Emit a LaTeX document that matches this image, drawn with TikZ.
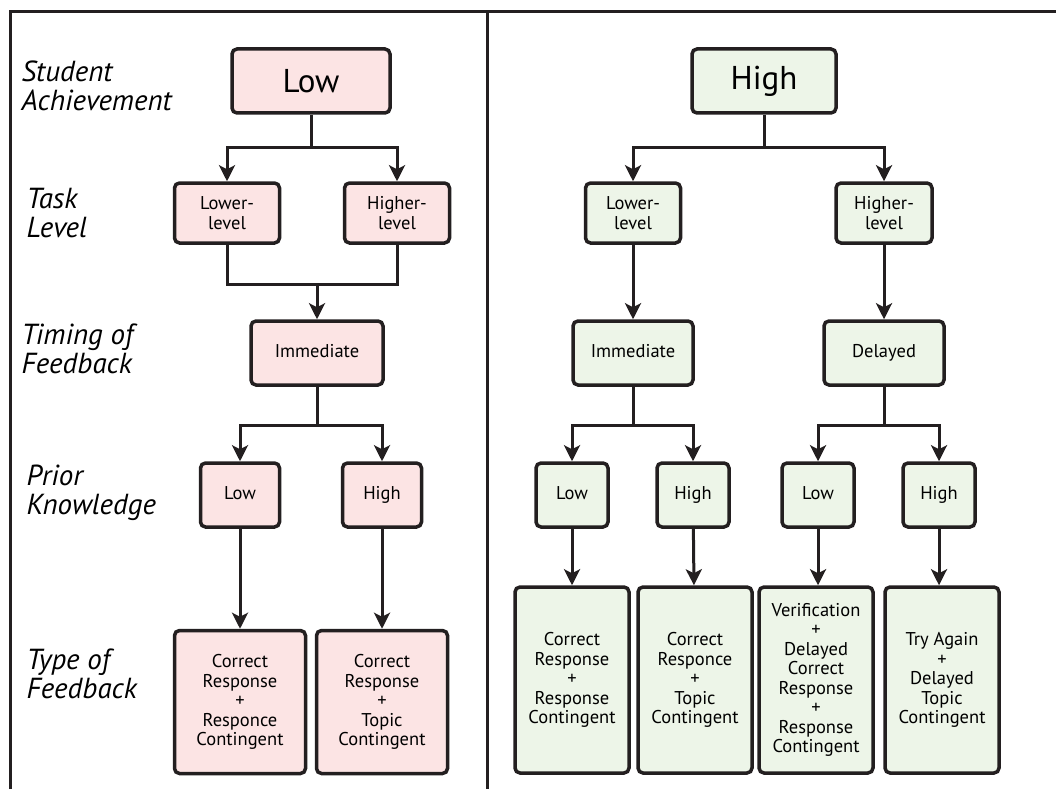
\documentclass[tikz,border=0pt]{standalone}
\usepackage{fontspec}
\setmainfont{PT Sans}
\usetikzlibrary{arrows.meta,positioning}
\definecolor{ink}{HTML}{231F20}
\definecolor{lowfill}{HTML}{FCE4E4}
\definecolor{highfill}{HTML}{EDF5E8}
\tikzset{
  box/.style={draw=ink, line width=3.5pt, rounded corners=5pt, align=center,
    inner sep=2pt, font=\fontsize{18.5}{19.5}\selectfont},
  lowbox/.style={box, fill=lowfill},
  highbox/.style={box, fill=highfill},
  oneline/.style={text height=13pt, text depth=4pt},
  catlabel/.style={anchor=west, align=left, font=\fontsize{29}{29}\selectfont\itshape},
  conn/.style={draw=ink, line width=3pt},
  arr/.style={conn, -{Stealth[length=16pt,width=16pt,inset=4pt]}}
}
\begin{document}
\begin{tikzpicture}[x=1pt, y=-1pt]
    \useasboundingbox (0,0) rectangle (1056,789);
    \draw[ink, line width=3pt] (10,789) -- (10,12) -- (1056,12);
    \draw[ink, line width=3pt] (487,12) -- (487,789);

    % row labels
    \node[catlabel] (lachieve) at (18,86) {Student\\Achievement};
    \node[catlabel] (ltask) at (23,213) {Task\\Level};
    \node[catlabel] (ltiming) at (18,349) {Timing of\\Feedback};
    \node[catlabel] (lprior) at (23,493) {Prior\\Knowledge};
    \node[catlabel] (ltype) at (23,674) {Type of\\Feedback};

    % low achievement
    \node[lowbox, minimum width=158pt, minimum height=64pt, font=\fontsize{33}{36}\selectfont] (low) at (311,81) {Low};
    \node[lowbox, minimum width=105pt, minimum height=60pt] (lolower) at (227,213) {Lower-\\level};
    \node[lowbox, minimum width=105pt, minimum height=60pt] (lohigher) at (397,213) {Higher-\\level};
    \node[lowbox, oneline, minimum width=132pt, minimum height=64pt] (loimm) at (317,353) {Immediate};
    \node[lowbox, oneline, minimum width=79pt, minimum height=64pt] (lopklow) at (240,495) {Low};
    \node[lowbox, oneline, minimum width=79pt, minimum height=64pt] (lopkhigh) at (382,495) {High};
    \node[lowbox, minimum width=131pt, minimum height=143pt] (lofbone) at (240,702) {Correct\\Response\\+\\Responce\\Contingent};
    \node[lowbox, minimum width=131pt, minimum height=143pt] (lofbtwo) at (382,702) {Correct\\Response\\+\\Topic\\Contingent};

    \coordinate (lofork) at (low.south |- 0,147);
    \draw[conn] (low) -- (lofork);
    \draw[arr] (lofork) -| (lolower);
    \draw[arr] (lofork) -| (lohigher);
    \coordinate (lomerge) at (loimm.north |- 0,284);
    \draw[conn] (lolower) |- (lomerge) -| (lohigher);
    \draw[arr] (lomerge) -- (loimm);
    \coordinate (loimmfork) at (loimm.south |- 0,425);
    \draw[conn] (loimm) -- (loimmfork);
    \draw[arr] (loimmfork) -| (lopklow);
    \draw[arr] (loimmfork) -| (lopkhigh);
    \draw[arr] (lopklow) -- (lofbone);
    \draw[arr] (lopkhigh) -- (lofbtwo);

    % high achievement
    \node[highbox, minimum width=144pt, minimum height=64pt, font=\fontsize{33}{36}\selectfont] (high) at (764,81) {High};
    \node[highbox, minimum width=95pt, minimum height=60pt] (hilower) at (633,213) {Lower-\\level};
    \node[highbox, minimum width=96pt, minimum height=60pt] (hihigher) at (884,213) {Higher-\\level};
    \node[highbox, oneline, minimum width=120pt, minimum height=64pt] (hiimm) at (633,353) {Immediate};
    \node[highbox, oneline, minimum width=120pt, minimum height=64pt] (hidelay) at (884,353) {Delayed};
    \node[highbox, oneline, minimum width=72pt, minimum height=64pt] (hipkone) at (572,495) {Low};
    \node[highbox, oneline, minimum width=72pt, minimum height=64pt] (hipktwo) at (693,495) {High};
    \node[highbox, oneline, minimum width=72pt, minimum height=64pt] (hipkthree) at (818,495) {Low};
    \node[highbox, oneline, minimum width=72pt, minimum height=64pt] (hipkfour) at (939,495) {High};
    \node[highbox, minimum width=114pt, minimum height=186pt] (hifbone) at (572,680) {Correct\\Response\\+\\Response\\Contingent};
    \node[highbox, minimum width=114pt, minimum height=186pt] (hifbtwo) at (695,680) {Correct\\Responce\\+\\Topic\\Contingent};
    \node[highbox, minimum width=114pt, minimum height=186pt] (hifbthree) at (816,680) {Verification\\+\\Delayed\\Correct\\Response\\+\\Response\\Contingent};
    \node[highbox, minimum width=114pt, minimum height=186pt] (hifbfour) at (942,680) {Try Again\\+\\Delayed\\Topic\\Contingent};

    \coordinate (hifork) at (high.south |- 0,147);
    \draw[conn] (high) -- (hifork);
    \draw[arr] (hifork) -| (hilower);
    \draw[arr] (hifork) -| (hihigher);
    \draw[arr] (hilower) -- (hiimm);
    \draw[arr] (hihigher) -- (hidelay);
    \coordinate (hiimmfork) at (hiimm.south |- 0,425);
    \draw[conn] (hiimm) -- (hiimmfork);
    \draw[arr] (hiimmfork) -| (hipkone);
    \draw[arr] (hiimmfork) -| (hipktwo);
    \coordinate (hidelfork) at (hidelay.south |- 0,425);
    \draw[conn] (hidelay) -- (hidelfork);
    \draw[arr] (hidelfork) -| (hipkthree);
    \draw[arr] (hidelfork) -| (hipkfour);
    \draw[arr] (hipkone) -- (hifbone);
    \draw[arr] (hipktwo) -- (hifbtwo);
    \draw[arr] (hipkthree) -- (hifbthree.north -| hipkthree);
    \draw[arr] (hipkfour) -- (hifbfour.north -| hipkfour);
\end{tikzpicture}
\end{document}
